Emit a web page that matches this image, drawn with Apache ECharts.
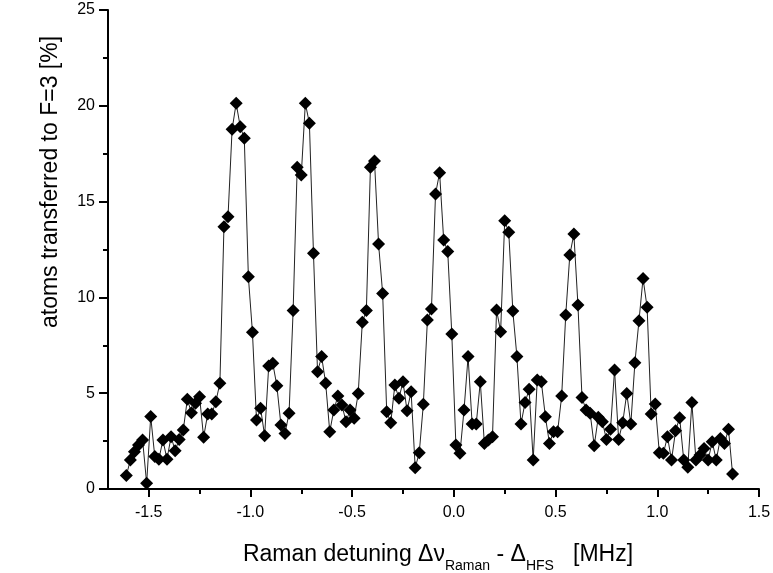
<!DOCTYPE html>
<html>
<head>
<meta charset="utf-8">
<script src="https://cdn.jsdelivr.net/npm/echarts@6/dist/echarts.min.js"></script>
<style>
html,body{margin:0;padding:0;background:#fff;}
#chart{width:773px;height:573px;}
</style>
</head>
<body>
<div id="chart"></div>
<script>
// Raman detuning (MHz)
const detuning = [
-1.61,-1.59,-1.57,-1.55,-1.53,-1.51,-1.49,-1.47,-1.45,-1.43,
-1.41,-1.39,-1.37,-1.35,-1.33,-1.31,-1.29,-1.27,-1.25,-1.23,
-1.21,-1.19,-1.17,-1.15,-1.13,-1.11,-1.09,-1.07,-1.05,-1.03,
-1.01,-0.99,-0.97,-0.95,-0.93,-0.91,-0.89,-0.87,-0.85,-0.83,
-0.81,-0.79,-0.77,-0.75,-0.73,-0.71,-0.69,-0.67,-0.65,-0.63,
-0.61,-0.59,-0.57,-0.55,-0.53,-0.51,-0.49,-0.47,-0.45,-0.43,
-0.41,-0.39,-0.37,-0.35,-0.33,-0.31,-0.29,-0.27,-0.25,-0.23,
-0.21,-0.19,-0.17,-0.15,-0.13,-0.11,-0.09,-0.07,-0.05,-0.03,
-0.01,0.01,0.03,0.05,0.07,0.09,0.11,0.13,0.15,0.17,
0.19,0.21,0.23,0.25,0.27,0.29,0.31,0.33,0.35,0.37,
0.39,0.41,0.43,0.45,0.47,0.49,0.51,0.53,0.55,0.57,
0.59,0.61,0.63,0.65,0.67,0.69,0.71,0.73,0.75,0.77,
0.79,0.81,0.83,0.85,0.87,0.89,0.91,0.93,0.95,0.97,
0.99,1.01,1.03,1.05,1.07,1.09,1.11,1.13,1.15,1.17,
1.19,1.21,1.23,1.25,1.27,1.29,1.31,1.33,1.35,1.37
];
// atoms transferred to F=3 (%)
const transferred = [
0.70,1.51,1.95,2.30,2.56,0.30,3.78,1.69,1.55,2.56,
1.55,2.73,2.00,2.59,3.08,4.68,3.98,4.47,4.82,2.70,
3.91,3.91,4.56,5.52,13.69,14.21,18.77,20.13,18.91,18.30,
11.08,8.18,3.60,4.21,2.78,6.42,6.56,5.39,3.34,2.90,
3.95,9.31,16.79,16.39,20.13,19.09,12.30,6.12,6.91,5.52,
2.99,4.12,4.85,4.38,3.51,4.12,3.69,4.99,8.70,9.31,
16.79,17.12,12.79,10.21,4.03,3.46,5.43,4.73,5.60,4.09,
5.08,1.11,1.89,4.42,8.82,9.39,15.40,16.51,13.00,12.39,
8.09,2.30,1.86,4.12,6.91,3.39,3.39,5.60,2.38,2.56,
2.73,9.34,8.21,14.00,13.40,9.29,6.91,3.39,4.51,5.20,
1.51,5.69,5.60,3.77,2.38,2.99,2.99,4.85,9.08,12.21,
13.31,9.60,4.77,4.12,3.95,2.26,3.74,3.51,2.59,3.12,
6.21,2.59,3.46,4.99,3.39,6.59,8.78,10.99,9.48,3.91,
4.44,1.89,1.86,2.73,1.51,3.04,3.72,1.51,1.13,4.51,
1.51,1.77,2.12,1.51,2.47,1.51,2.64,2.38,3.12,0.78
];
const xMajorTicks = [-1.5,-1.0,-0.5,0.0,0.5,1.0,1.5];
const xMinorTicks = [-1.25,-0.75,-0.25,0.25,0.75,1.25];
const yTicks = [0,5,10,15,20,25];

const FONT = 'Liberation Sans, Arial, sans-serif';
const chart = echarts.init(document.getElementById('chart'), null, {renderer:'canvas'});
const axisLineStyle = {color:'#000', width:2};

chart.setOption({
  animation:false,
  backgroundColor:'#fff',
  grid:{left:108,right:14,top:10,bottom:84,containLabel:false,outerBoundsMode:'none'},
  xAxis:[{
    type:'value', min:-1.7, max:1.5,
    axisLine:{show:true,onZero:false,lineStyle:axisLineStyle},
    axisTick:{show:true,customValues:xMajorTicks,length:8,inside:false,lineStyle:{color:'#000',width:2}},
    axisLabel:{show:true,customValues:xMajorTicks,margin:16,color:'#000',fontSize:16,fontFamily:FONT,
      formatter:v=>v.toFixed(1)},
    splitLine:{show:false}
  },{
    type:'value', min:-1.7, max:1.5, position:'bottom',
    axisLine:{show:false,onZero:false},
    axisTick:{show:true,customValues:xMinorTicks,length:5,lineStyle:{color:'#000',width:2}},
    axisLabel:{show:false},
    splitLine:{show:false}
  }],
  yAxis:{
    type:'value', min:0, max:25, interval:5,
    axisLine:{show:true,onZero:false,lineStyle:axisLineStyle},
    axisTick:{show:true,length:9,lineStyle:{color:'#000',width:2}},
    minorTick:{show:true,splitNumber:2,length:5,lineStyle:{color:'#000',width:2}},
    axisLabel:{margin:13,color:'#000',fontSize:16,fontFamily:FONT},
    splitLine:{show:false},
    minorSplitLine:{show:false}
  },
  series:[{
    type:'line',
    xAxisIndex:0,
    data:detuning.map((x,i)=>[x,transferred[i]]),
    symbol:'diamond',
    symbolSize:13,
    showSymbol:true,
    lineStyle:{color:'#222',width:1},
    itemStyle:{color:'#000'},
    z:3
  }],
  graphic:[{
    type:'text',
    x:51, y:182,
    rotation:Math.PI/2,
    style:{
      text:'atoms transferred to F=3 [%]',
      fill:'#000',
      font:'23px ' + FONT,
      align:'center',
      verticalAlign:'middle'
    }
  },{
    type:'text',
    x:438, y:555,
    style:{
      text:'{m|Raman detuning Δν}{s|Raman}{m| - Δ}{s|HFS}{m|   [MHz]}',
      fill:'#000',
      align:'center',
      verticalAlign:'middle',
      rich:{
        m:{fontSize:23,fontFamily:FONT,fill:'#000',color:'#000',lineHeight:36,verticalAlign:'middle'},
        s:{fontSize:14,fontFamily:FONT,fill:'#000',color:'#000',lineHeight:14,verticalAlign:'bottom'}
      }
    }
  }]
});
</script>
</body>
</html>
